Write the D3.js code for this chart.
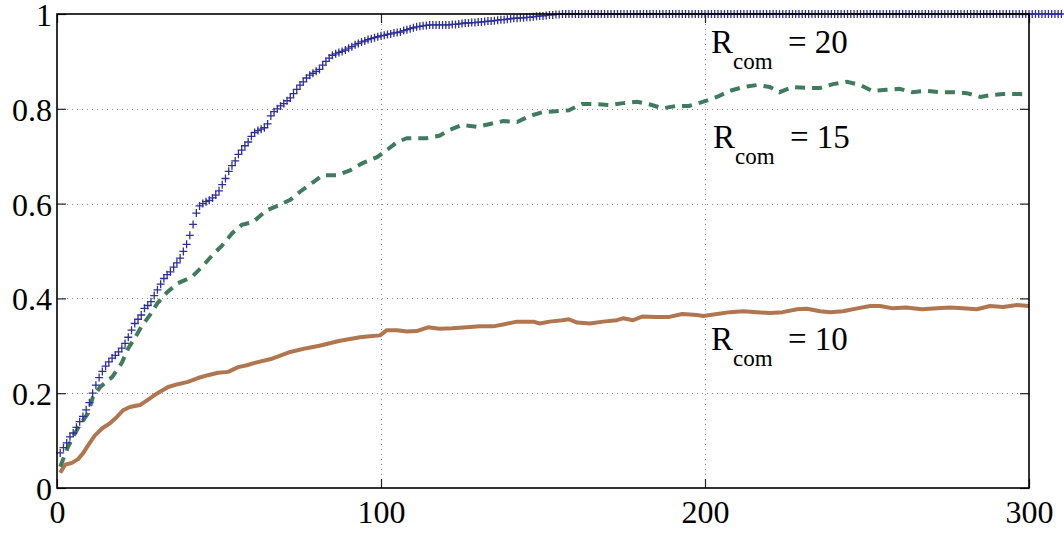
<!DOCTYPE html>
<html>
<head>
<meta charset="utf-8">
<script src="https://cdn.jsdelivr.net/npm/d3@7"></script>
</head>
<body style="margin:0;background:#fff">
<svg id="chart" width="1064" height="534"></svg>
<script>
// ---------- data ----------
const xTicks = [0, 100, 200, 300];
const yTicks = [0, 0.2, 0.4, 0.6, 0.8, 1];
const yTickLabels = ["0", "0.2", "0.4", "0.6", "0.8", "1"];

// R_com = 20 (markers at every step 1..300)
const r20Values = [
  0.074,0.085,0.095,0.108,0.116,0.128,0.14,0.151,0.165,0.18,
  0.2,0.217,0.233,0.246,0.257,0.266,0.274,0.28,0.287,0.295,
  0.305,0.318,0.333,0.347,0.356,0.365,0.379,0.385,0.393,0.406,
  0.418,0.43,0.442,0.45,0.456,0.466,0.475,0.485,0.499,0.514,
  0.533,0.556,0.58,0.595,0.6,0.604,0.607,0.612,0.618,0.627,
  0.64,0.653,0.668,0.68,0.69,0.704,0.713,0.722,0.73,0.742,
  0.75,0.754,0.757,0.76,0.768,0.785,0.794,0.8,0.806,0.811,
  0.817,0.823,0.832,0.841,0.85,0.857,0.865,0.871,0.875,0.879,
  0.883,0.892,0.9,0.907,0.913,0.916,0.919,0.921,0.924,0.928,
  0.931,0.935,0.938,0.941,0.943,0.946,0.948,0.95,0.952,0.954,
  0.955,0.957,0.958,0.96,0.961,0.962,0.965,0.967,0.969,0.971,
  0.973,0.974,0.975,0.976,0.977,0.977,0.977,0.977,0.977,0.977,
  0.977,0.978,0.978,0.979,0.98,0.981,0.981,0.982,0.982,0.983,
  0.983,0.984,0.985,0.985,0.986,0.987,0.988,0.988,0.989,0.99,
  0.991,0.991,0.992,0.992,0.993,0.993,0.994,0.995,0.996,0.996,
  0.997,0.998,0.998,0.999,0.999,1,1,1,1,1,
  1,1,1,1,1,1,1,1,1,1,
  1,1,1,1,1,1,1,1,1,1,
  1,1,1,1,1,1,1,1,1,1,
  1,1,1,1,1,1,1,1,1,1,
  1,1,1,1,1,1,1,1,1,1,
  1,1,1,1,1,1,1,1,1,1,
  1,1,1,1,1,1,1,1,1,1,
  1,1,1,1,1,1,1,1,1,1,
  1,1,1,1,1,1,1,1,1,1,
  1,1,1,1,1,1,1,1,1,1,
  1,1,1,1,1,1,1,1,1,1,
  1,1,1,1,1,1,1,1,1,1,
  1,1,1,1,1,1,1,1,1,1,
  1,1,1,1,1,1,1,1,1,1,
  1,1,1,1,1,1,1,1,1,1
];

// R_com = 15
const r15X = [1,3.4,6.5,9.6,11,13.3,17,20,22,24,26,28.7,31,34,37.3,41.6,44.7,47.8,51,54,57,60.5,64.7,68,72,75,79,82,86.4,90.4,94.5,98.8,101.8,105,108,114,118,121,125,129.6,133.6,137.7,142,146,150,154,158,162,166.6,170.7,174.7,179,183,187,191,195,199.5,203.7,207.7,211.8,216,220,223,227,231.5,235.5,239.5,243.8,248,251.5,256,260,264,268.5,272.5,276.5,280.8,285,288,292,297,300];
const r15Y = [0.045,0.087,0.127,0.158,0.19,0.213,0.234,0.264,0.295,0.316,0.34,0.365,0.39,0.413,0.432,0.445,0.466,0.49,0.512,0.537,0.555,0.561,0.586,0.595,0.608,0.625,0.645,0.66,0.66,0.67,0.686,0.698,0.713,0.73,0.738,0.738,0.743,0.755,0.766,0.762,0.768,0.774,0.772,0.785,0.793,0.795,0.797,0.81,0.81,0.808,0.812,0.815,0.809,0.801,0.806,0.806,0.815,0.825,0.838,0.846,0.85,0.846,0.835,0.846,0.844,0.844,0.852,0.857,0.85,0.838,0.84,0.842,0.835,0.838,0.835,0.835,0.833,0.825,0.829,0.831,0.831,0.83];

// R_com = 10
const r10X = [1,2.5,4.6,6.5,8,9.6,11.7,14,16.4,18.5,20.4,22.5,25.6,28,31,34.3,37.3,40.4,43.5,46.6,49.7,52.8,55.9,58.6,61,66,72,77,81,87,93.5,96.5,99.7,101.8,105,108,111,114.5,118,122,126.5,130.5,134.6,137.7,142,147,149,152,156,158,160.5,164.5,168.5,172.8,174.7,177.8,180.8,185,189,193,197.5,199.5,203.7,207.7,211.8,216,220,224,228.4,231.5,235.5,238.6,242.6,247,251,254,258,262,267,271.6,275.6,279.6,283.9,288,292,296.3,300];
const r10Y = [0.032,0.049,0.053,0.061,0.073,0.09,0.111,0.126,0.137,0.15,0.164,0.171,0.175,0.186,0.2,0.213,0.219,0.224,0.232,0.238,0.243,0.245,0.255,0.259,0.264,0.272,0.287,0.295,0.3,0.31,0.318,0.32,0.322,0.333,0.333,0.33,0.331,0.339,0.336,0.337,0.339,0.341,0.341,0.345,0.351,0.351,0.347,0.351,0.354,0.356,0.349,0.347,0.351,0.354,0.358,0.354,0.362,0.361,0.361,0.367,0.365,0.363,0.367,0.371,0.373,0.371,0.369,0.371,0.377,0.378,0.373,0.371,0.373,0.379,0.384,0.384,0.379,0.381,0.377,0.379,0.381,0.379,0.377,0.384,0.382,0.386,0.384];

const seriesLabels = ["20", "15", "10"];

// ---------- layout ----------
const FONT = "Liberation Serif";
const svg = d3.select("#chart");
const L = 57, R = 1029, T = 14, B = 488;
const x = d3.scaleLinear().domain([0, 300]).range([L, R]);
const y = d3.scaleLinear().domain([0, 1]).range([B, T]);

// grid
const grid = svg.append("g");
grid.selectAll(".gx").data(xTicks.filter(d => d > 0 && d < 300)).enter()
  .append("line")
  .attr("x1", d => Math.round(x(d)) + 0.5).attr("x2", d => Math.round(x(d)) + 0.5)
  .attr("y1", T).attr("y2", B)
  .attr("stroke", "#8a8a8a").attr("stroke-width", 1)
  .attr("stroke-dasharray", "1,4");
grid.selectAll(".gy").data(yTicks.filter(d => d > 0 && d < 1)).enter()
  .append("line")
  .attr("x1", L).attr("x2", R)
  .attr("y1", d => Math.round(y(d)) + 0.5).attr("y2", d => Math.round(y(d)) + 0.5)
  .attr("stroke", "#8a8a8a").attr("stroke-width", 1)
  .attr("stroke-dasharray", "1,4");

// R=10 line
const line = d3.line().x(d => x(d[0])).y(d => y(d[1]));
svg.append("path")
  .attr("d", line(d3.zip(r10X, r10Y)))
  .attr("fill", "none").attr("stroke", "#b0764f").attr("stroke-width", 4)
  .attr("stroke-linejoin", "round");

// R=15 dashed
svg.append("path")
  .attr("d", line(d3.zip(r15X, r15Y)))
  .attr("fill", "none").attr("stroke", "#3f7b5c").attr("stroke-width", 4)
  .attr("stroke-dasharray", "10,7");

// R=20 plus markers
const r20X = d3.range(1, r20Values.length + 1);
svg.append("g").selectAll("path").data(d3.zip(r20X, r20Values)).enter()
  .append("path")
  .attr("transform", d => `translate(${x(d[0])},${y(d[1])})`)
  .attr("d", "M-4,0H4M0,-4V4")
  .attr("fill", "none").attr("stroke", "#2f2f9c").attr("stroke-width", 1.3);

// axes
const fontSize = 32;
const ax = svg.append("g").attr("transform", `translate(0,${B})`)
  .call(d3.axisBottom(x).tickValues(xTicks).tickSize(-9).tickPadding(12).tickFormat(d3.format("d")));
const ay = svg.append("g").attr("transform", `translate(${L},0)`)
  .call(d3.axisLeft(y).tickValues(yTicks).tickSize(-9).tickPadding(5).tickFormat((d, i) => yTickLabels[i]));
const at = svg.append("g").attr("transform", `translate(0,${T})`)
  .call(d3.axisTop(x).tickValues(xTicks).tickSize(-9).tickFormat(""));
const ar = svg.append("g").attr("transform", `translate(${R},0)`)
  .call(d3.axisRight(y).tickValues(yTicks).tickSize(-9).tickFormat(""));
[ax, ay, at, ar].forEach(g => {
  g.attr("font-family", FONT).attr("font-size", fontSize);
  g.select(".domain").remove();
  g.selectAll("line").attr("stroke", "#222").attr("stroke-width", 1.2);
  g.selectAll("text").attr("font-family", FONT).attr("font-size", fontSize).attr("fill", "#000");
});
ay.selectAll("text").attr("dy", "0.36em");

// box
svg.append("rect").attr("x", L).attr("y", T).attr("width", R - L).attr("height", B - T)
  .attr("fill", "none").attr("stroke", "#000").attr("stroke-width", 1.6);

// series labels
const labelPos = [[711, 53], [713, 148], [711, 350]];
seriesLabels.forEach((v, i) => {
  const t = svg.append("text")
    .attr("x", labelPos[i][0]).attr("y", labelPos[i][1])
    .attr("font-family", FONT).attr("font-size", 33).attr("fill", "#000");
  t.append("tspan").text("R");
  t.append("tspan").attr("dy", 16).attr("font-size", 23).text("com");
  t.append("tspan").attr("dy", -16).attr("x", labelPos[i][0] + 77).text("= " + v);
});
</script>
</body>
</html>
